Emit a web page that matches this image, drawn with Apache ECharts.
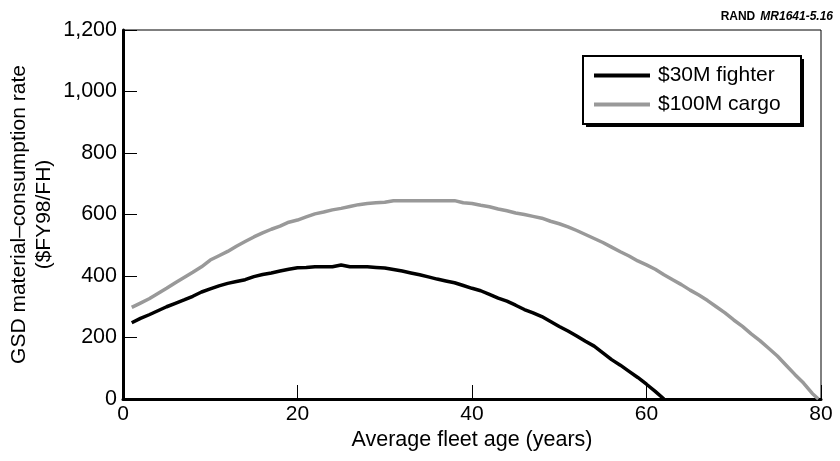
<!DOCTYPE html>
<html>
<head>
<meta charset="utf-8">
<script src="https://cdn.jsdelivr.net/npm/echarts@6/dist/echarts.min.js"></script>
<style>html,body{margin:0;padding:0;background:#fff}#c{width:840px;height:461px}</style>
</head>
<body>
<div id="c"></div>
<script>
const fighterAges = [1,2,3,4,5,6,7,8,9,10,11,12,13,14,15,16,17,18,19,20,21,22,23,24,25,26,27,28,29,30,31,32,33,34,35,36,37,38,39,40,41,42,43,44,45,46,47,48,49,50,51,52,53,54,55,56,57,58,59,60,61,62];
const fighterRates = [248,262,274,287,300,311,322,334,348,358,368,376,382,388,398,405,410,416,422,427,428,430,430,430,436,430,430,430,428,426,421,416,410,404,397,390,384,378,369,360,352,340,328,318,305,291,280,268,252,236,221,205,188,172,150,128,110,90,70,48,25,0];
const cargoAges = [1,2,3,4,5,6,7,8,9,10,11,12,13,14,15,16,17,18,19,20,21,22,23,24,25,26,27,28,29,30,31,32,33,34,35,36,37,38,39,40,41,42,43,44,45,46,47,48,49,50,51,52,53,54,55,56,57,58,59,60,61,62,63,64,65,66,67,68,69,70,71,72,73,74,75,76,77,78,79,79.7];
const cargoRates = [298,312,326,343,360,378,395,412,430,452,466,480,497,512,527,540,552,562,575,582,592,602,608,615,620,626,632,636,638,640,645,645,645,645,645,645,645,645,638,636,630,625,618,612,605,600,594,588,578,570,560,548,535,522,509,494,479,465,449,436,422,404,388,372,354,338,320,300,280,257,236,212,190,165,140,110,80,52,18,0];
const seriesNames = ["$30M fighter", "$100M cargo"];
const xTicks = [0,20,40,60,80];
const yTicks = [0,200,400,600,800,1000,1200];

const FONT = "Liberation Sans, Arial, Helvetica, sans-serif";
const pair = (xs, ys) => xs.map((x, i) => [x, ys[i]]);

const chart = echarts.init(document.getElementById('c'), null, {renderer: 'canvas'});
chart.setOption({
  animation: false,
  backgroundColor: '#fff',
  textStyle: {fontFamily: FONT, color: '#000'},
  title: {
    text: '{b|RAND} {i|MR1641-5.16}',
    right: 2, top: 3,
    textStyle: {
      rich: {
        b: {fontWeight: 'bold', fontSize: 12, fontFamily: FONT, color: '#000'},
        i: {fontStyle: 'italic', fontSize: 12, fontFamily: FONT, color: '#000'}
      }
    }
  },
  grid: {
    left: 123, right: 19, top: 30, bottom: 62,
    containLabel: false, outerBoundsMode: 'none',
    show: true, borderColor: '#000', borderWidth: 1, backgroundColor: 'transparent'
  },
  graphic: [
    {type: 'rect', left: 586, top: 59, z: 10, shape: {width: 218, height: 68}, style: {fill: '#000'}},
    {type: 'rect', left: 582, top: 55, z: 11, shape: {width: 218, height: 68}, style: {fill: '#fff', stroke: '#000', lineWidth: 2}}
  ],
  legend: {
    orient: 'vertical',
    left: 594, top: 65, z: 20,
    data: seriesNames.map(n => ({name: n, icon: 'rect'})),
    itemWidth: 56, itemHeight: 4, itemGap: 8,
    padding: 0,
    textStyle: {fontSize: 21, fontFamily: FONT, color: '#000', padding: [0,0,0,3]}
  },
  xAxis: {
    type: 'value', min: 0, max: 80, interval: 20,
    name: 'Average fleet age (years)', nameLocation: 'middle', nameGap: 30,
    nameMoveOverlap: false,
    nameTextStyle: {fontSize: 21.5, fontFamily: FONT, color: '#000'},
    axisLine: {show: true, lineStyle: {color: '#000', width: 3}},
    axisTick: {show: true, inside: true, length: 14, lineStyle: {color: '#000', width: 1}},
    axisLabel: {fontSize: 21, color: '#000', margin: 5, fontFamily: FONT,
      formatter: v => xTicks.includes(v) ? String(v) : ''},
    splitLine: {show: false}
  },
  yAxis: {
    type: 'value', min: 0, max: 1200, interval: 200,
    name: 'GSD material–consumption rate\n($FY98/FH)', nameLocation: 'middle', nameGap: 66,
    nameMoveOverlap: false,
    nameTextStyle: {fontSize: 21, fontFamily: FONT, color: '#000', lineHeight: 25},
    axisLine: {show: true, lineStyle: {color: '#000', width: 3}},
    axisTick: {show: true, inside: true, length: 14, lineStyle: {color: '#000', width: 1}},
    axisLabel: {fontSize: 21.5, color: '#000', margin: 6, fontFamily: FONT,
      formatter: v => yTicks.includes(v) ? v.toLocaleString('en-US') : ''},
    splitLine: {show: false}
  },
  series: [
    {
      name: seriesNames[0], type: 'line', data: pair(fighterAges, fighterRates),
      showSymbol: false, symbol: 'none', smooth: false,
      lineStyle: {color: '#000', width: 3.5}, itemStyle: {color: '#000'}, z: 3
    },
    {
      name: seriesNames[1], type: 'line', data: pair(cargoAges, cargoRates),
      showSymbol: false, symbol: 'none', smooth: false,
      lineStyle: {color: '#999', width: 3.5}, itemStyle: {color: '#999'}, z: 2
    }
  ]
});
</script>
</body>
</html>
